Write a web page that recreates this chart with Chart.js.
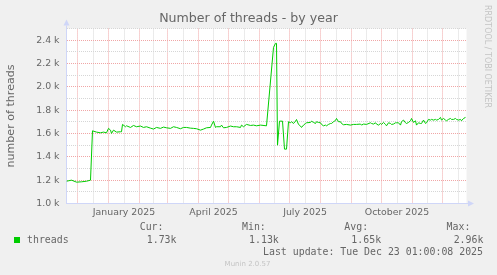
<!DOCTYPE html>
<html>
<head>
<meta charset="utf-8">
<script src="https://cdn.jsdelivr.net/npm/chart.js@4.4.1/dist/chart.umd.min.js"></script>
<style>
    html, body { margin: 0; padding: 0; background: #f0f0f0; }
    canvas { display: block; }
</style>
</head>
<body>
<canvas id="threadsChart" width="497" height="275"></canvas>
<script>
// x values are days counted from 1 January 2025
var days = [-42, -37, -32, -27, -22, -18, -16, -12, -8, -5, -2, 0, 2, 3, 5, 8, 12, 13, 14, 17,
    18, 22, 25, 28, 32, 35, 38, 42, 45, 48, 52, 55, 58, 62, 65, 68, 72, 75, 78, 82,
    85, 88, 92, 95, 98, 102, 103, 105, 107, 108, 112, 113, 115, 118, 122, 125, 128, 132, 133, 135,
    138, 142, 145, 148, 152, 158, 165, 167, 168, 169, 171, 174, 176, 178, 180, 182, 183, 185, 187, 188,
    190, 192, 193, 195, 197, 198, 202, 203, 205, 207, 208, 210, 212, 213, 215, 217, 218, 220, 222, 223,
    225, 227, 228, 230, 232, 233, 235, 238, 242, 245, 248, 252, 253, 255, 258, 262, 263, 265, 267, 268,
    270, 272, 273, 275, 277, 278, 280, 282, 283, 285, 287, 288, 290, 292, 293, 295, 297, 298, 300, 302,
    303, 305, 307, 308, 310, 312, 313, 315, 317, 318, 320, 322, 323, 325, 327, 328, 330, 332, 333, 335,
    337, 338, 340, 342, 343, 345, 347, 348, 350, 352, 353, 355, 357];
var threads = [1191, 1200, 1183, 1186, 1191, 1200, 1623, 1612, 1606, 1612, 1606, 1644, 1629, 1601, 1629, 1612, 1615, 1615, 1678, 1658,
    1666, 1652, 1669, 1658, 1664, 1652, 1658, 1646, 1638, 1652, 1644, 1655, 1649, 1644, 1658, 1652, 1641, 1652, 1652, 1646,
    1644, 1641, 1629, 1638, 1649, 1652, 1672, 1706, 1652, 1658, 1658, 1672, 1649, 1652, 1664, 1658, 1658, 1652, 1672, 1658,
    1678, 1669, 1672, 1666, 1672, 1666, 2338, 2373, 2373, 1500, 1706, 1706, 1466, 1466, 1701, 1692, 1701, 1686, 1706, 1720,
    1678, 1664, 1652, 1672, 1686, 1692, 1695, 1706, 1695, 1686, 1701, 1695, 1692, 1678, 1666, 1672, 1666, 1678, 1686, 1686,
    1701, 1712, 1729, 1701, 1701, 1686, 1675, 1678, 1672, 1678, 1678, 1681, 1672, 1681, 1678, 1692, 1686, 1681, 1692, 1681,
    1672, 1686, 1678, 1695, 1678, 1666, 1692, 1686, 1678, 1681, 1692, 1692, 1692, 1672, 1701, 1715, 1692, 1686, 1695, 1709,
    1729, 1695, 1709, 1672, 1692, 1686, 1686, 1715, 1686, 1692, 1721, 1715, 1721, 1715, 1721, 1715, 1721, 1738, 1715, 1729,
    1715, 1709, 1721, 1729, 1721, 1721, 1729, 1721, 1715, 1721, 1709, 1729, 1738];

var xTickLabels = ['January 2025', 'April 2025', 'July 2025', 'October 2025'];
var labelMonths = [0, 3, 6, 9];
var legendHeaders = ['Cur:', 'Min:', 'Avg:', 'Max:'];
var legendValues = ['1.73k', '1.13k', '1.65k', '2.96k'];
var lastUpdate = 'Last update: Tue Dec 23 01:00:08 2025';

var majorGrid = '#f0a6a6';
var minorGrid = '#d6d6d6';
var axisColor = '#cfd6f8';
var fontColor = '#666666';

function dayOf(month) {
    return Math.round((Date.UTC(2025, month, 1) - Date.UTC(2025, 0, 1)) / 86400000);
}

// month starts get a red line, mid-month a grey one (and the quarter labels)
var xTicks = [];
for (var m = -1; m <= 11; m++) {
    var start = dayOf(m);
    var mid = (start + dayOf(m + 1)) / 2;
    var li = labelMonths.indexOf(m);
    xTicks.push({ value: start, kind: 'major', text: '' });
    xTicks.push({ value: mid, kind: 'minor', text: li >= 0 ? xTickLabels[li] : '' });
}

var points = [];
days.forEach(function (d, i) {
    points.push({ x: d, y: threads[i] });
});

var background = {
    id: 'background',
    beforeDraw: function (chart) {
        var ctx = chart.ctx, a = chart.chartArea;
        ctx.save();
        ctx.fillStyle = '#f0f0f0';
        ctx.fillRect(0, 0, chart.width, chart.height);
        ctx.fillStyle = '#ffffff';
        ctx.fillRect(a.left, a.top, a.right - a.left, a.bottom - a.top);
        ctx.restore();
    }
};

var decorations = {
    id: 'decorations',
    afterDraw: function (chart) {
        var ctx = chart.ctx, a = chart.chartArea;
        ctx.save();
        // axis arrows
        ctx.strokeStyle = axisColor;
        ctx.fillStyle = axisColor;
        ctx.lineWidth = 1;
        ctx.beginPath();
        ctx.moveTo(a.left, a.top);
        ctx.lineTo(a.left, a.top - 3);
        ctx.moveTo(a.right, a.bottom);
        ctx.lineTo(a.right + 2, a.bottom);
        ctx.stroke();
        ctx.beginPath();
        ctx.moveTo(a.left, a.top - 9);
        ctx.lineTo(a.left - 3, a.top - 3);
        ctx.lineTo(a.left + 3, a.top - 3);
        ctx.closePath();
        ctx.fill();
        ctx.beginPath();
        ctx.moveTo(a.right + 7.5, a.bottom);
        ctx.lineTo(a.right + 1.5, a.bottom - 3);
        ctx.lineTo(a.right + 1.5, a.bottom + 3);
        ctx.closePath();
        ctx.fill();

        // legend block
        ctx.fillStyle = '#00cc00';
        ctx.fillRect(14, 237, 6, 6);
        ctx.fillStyle = fontColor;
        ctx.font = '9.9px "DejaVu Sans Mono"';
        ctx.textBaseline = 'middle';
        ctx.textAlign = 'left';
        ctx.fillText('threads', 27, 240);
        ctx.textAlign = 'right';
        for (var i = 0; i < legendHeaders.length; i++) {
            ctx.fillText(legendHeaders[i], 163.5 + i * 102.3, 227.5);
            ctx.fillText(legendValues[i], 176.5 + i * 102.3, 240);
        }
        ctx.fillText(lastUpdate, 483, 252);

        ctx.fillStyle = '#c4c4c4';
        ctx.font = '7px "DejaVu Sans"';
        ctx.textAlign = 'center';
        ctx.fillText('Munin 2.0.57', 247.5, 264);

        ctx.translate(485, 5);
        ctx.rotate(Math.PI / 2);
        ctx.font = '8px "DejaVu Sans"';
        ctx.textAlign = 'left';
        ctx.textBaseline = 'alphabetic';
        ctx.fillText('RRDTOOL / TOBI OETIKER', 0, 0);
        ctx.restore();
    }
};

var chartElement = document.getElementById('threadsChart').getContext('2d');
var chartObject = new Chart(chartElement, {
    type: 'line',
    data: {
        datasets: [{
            label: 'threads',
            data: points,
            borderColor: '#00cc00',
            borderWidth: 1,
            pointRadius: 0,
            tension: 0,
            fill: false
        }]
    },
    options: {
        responsive: false,
        animation: false,
        devicePixelRatio: 1,
        layout: { padding: { left: 0, right: 0, top: 0, bottom: 51.5 } },
        plugins: {
            legend: { display: false },
            tooltip: { enabled: false },
            title: {
                display: true,
                text: 'Number of threads - by year',
                color: fontColor,
                font: { family: 'DejaVu Sans', size: 12.6, weight: 'normal' },
                padding: { top: 11.6, bottom: 1.8 }
            }
        },
        scales: {
            x: {
                type: 'linear',
                min: -42,
                max: 358,
                afterBuildTicks: function (scale) {
                    scale.ticks = xTicks.map(function (t) {
                        return { value: t.value, kind: t.kind, text: t.text };
                    });
                },
                afterFit: function (scale) { scale.height = 20; },
                ticks: {
                    autoSkip: false,
                    maxRotation: 0,
                    padding: 3,
                    color: fontColor,
                    font: { family: 'DejaVu Sans', size: 9.4 },
                    callback: function (value, index, ticks) {
                        return ticks[index].text || '';
                    }
                },
                grid: {
                    drawTicks: false,
                    color: function (ctx) {
                        return ctx.tick && ctx.tick.kind === 'major' ? majorGrid : minorGrid;
                    }
                },
                border: { display: true, color: axisColor, width: 1, dash: [1, 1] }
            },
            y: {
                min: 1000,
                max: 2500,
                afterFit: function (scale) { scale.width = 66.5; },
                ticks: {
                    stepSize: 100,
                    autoSkip: false,
                    padding: 7,
                    color: fontColor,
                    font: { family: 'DejaVu Sans', size: 9.4 },
                    callback: function (value) {
                        return value % 200 === 0 ? (value / 1000).toFixed(1) + ' k' : '';
                    }
                },
                title: {
                    display: true,
                    text: 'number of threads',
                    color: fontColor,
                    font: { family: 'DejaVu Sans', size: 11.1, weight: 'normal' },
                    padding: { top: 4.4, bottom: 0 }
                },
                grid: {
                    drawTicks: false,
                    color: function (ctx) {
                        return ctx.tick && ctx.tick.value % 200 === 0 ? majorGrid : minorGrid;
                    }
                },
                border: { display: true, color: axisColor, width: 1, dash: [1, 1] }
            },
            // empty right-hand strip that holds the rrdtool credit
            gutter: {
                position: 'right',
                display: true,
                afterFit: function (scale) { scale.width = 30.5; },
                ticks: { display: false },
                grid: { display: false },
                border: { display: false }
            }
        }
    },
    plugins: [background, decorations]
});
</script>
</body>
</html>
